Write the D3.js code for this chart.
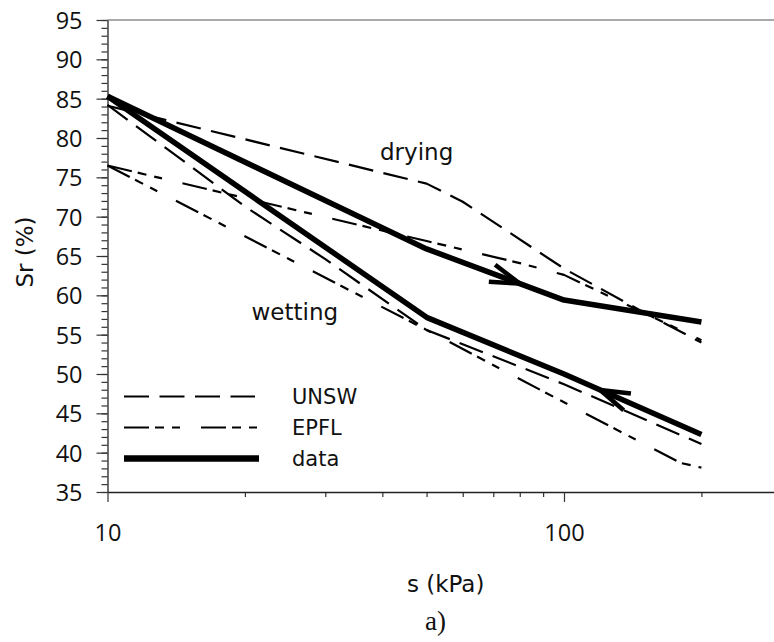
<!DOCTYPE html>
<html>
<head>
<meta charset="utf-8">
<script src="https://cdn.jsdelivr.net/npm/d3@7"></script>
<style>
  html, body { margin: 0; padding: 0; background: #fff; }
  svg { display: block; }
</style>
</head>
<body>
<div id="app"></div>
<script>
// measured data (s in kPa, Sr in %)
const dataDryS   = [10, 50, 100, 200]
const dataDrySr  = [85.3, 65.9, 59.4, 56.6]
const dataWetS   = [10, 50, 100, 200]
const dataWetSr  = [85.3, 57.2, 50.0, 42.3]

// UNSW model
const unswDryS   = [10, 50, 60, 100, 150, 200]
const unswDrySr  = [84.1, 74.2, 71.9, 63.4, 57.8, 54.0]
const unswWetS   = [10, 20, 30, 50, 100, 200]
const unswWetSr  = [84.2, 71.3, 64.6, 55.6, 48.7, 41.1]

// EPFL model
const epflDryS   = [10, 50, 80, 100, 200]
const epflDrySr  = [76.5, 66.9, 64.1, 62.6, 54.3]
const epflWetS   = [10, 50, 100, 180, 200]
const epflWetSr  = [76.5, 55.6, 46.4, 38.7, 38.1]

// arrows on the data paths (suction where the head sits)
const arrowDryS = 80
const arrowWetS = 120

const yTicks = d3.range(35, 96, 5)
const yMinor = d3.range(35, 96, 1)
const xTicks = [10, 100]
const xMinor = [20, 30, 40, 50, 60, 70, 80, 90, 200]

const legendNames = ['UNSW', 'EPFL', 'data']

const width = 774
const height = 642

const x_scale = d3.scaleLog()
    .domain([10, 300])
    .range([107.5, 781.8])

const y_scale = d3.scaleLinear()
    .domain([35, 95])
    .range([492, 20])

const zip = (a, b) => a.map((v, i) => [v, b[i]])

const svg = d3.create('svg')
    .attr('viewBox', [0, 0, width, height])
    .attr('width', width)
    .attr('height', height)
    .style('font-family', '"DejaVu Sans", Verdana, sans-serif')

// top frame line
svg.append('line')
    .attr('x1', x_scale.range()[0]).attr('x2', x_scale.range()[1])
    .attr('y1', y_scale(95)).attr('y2', y_scale(95))
    .attr('stroke', '#555').attr('stroke-width', 1.2)

// y axis
const yMinorAxis = svg.append('g')
    .attr('transform', `translate(${x_scale(10)},0)`)
    .call(d3.axisLeft(y_scale).tickValues(yMinor).tickSize(6).tickSizeOuter(0).tickFormat(''))
yMinorAxis.select('.domain').remove()

const yAxis = svg.append('g')
    .attr('transform', `translate(${x_scale(10)},0)`)
    .call(d3.axisLeft(y_scale).tickValues(yTicks).tickSize(11).tickSizeOuter(0).tickPadding(14))

// x axis
const xMinorAxis = svg.append('g')
    .attr('transform', `translate(0,${y_scale(35)})`)
    .call(d3.axisBottom(x_scale).tickValues(xMinor).tickSize(5).tickSizeOuter(0).tickFormat(''))
xMinorAxis.select('.domain').remove()

const xAxis = svg.append('g')
    .attr('transform', `translate(0,${y_scale(35)})`)
    .call(d3.axisBottom(x_scale).tickValues(xTicks).tickSize(10).tickSizeOuter(0).tickPadding(22).tickFormat(d3.format('d')))

svg.selectAll('.domain').attr('stroke', '#222').attr('stroke-width', 1.3)
svg.selectAll('.tick line').attr('stroke', '#333').attr('stroke-width', 1.2)
svg.selectAll('.tick text')
    .attr('fill', '#111')
    .style('font-family', '"Open Sans", sans-serif')
    .style('font-size', '23.5px')
yAxis.selectAll('.tick text').attr('dy', '0.36em')

// axis titles
svg.append('text')
    .attr('transform', `translate(33,${(y_scale(95) + y_scale(35)) / 2 - 4}) rotate(-90)`)
    .attr('text-anchor', 'middle')
    .style('font-size', '23px')
    .attr('fill', '#111')
    .text('Sr (%)')

svg.append('text')
    .attr('x', 445.7).attr('y', 592)
    .attr('text-anchor', 'middle')
    .style('font-size', '23px')
    .attr('fill', '#111')
    .text('s (kPa)')

svg.append('text')
    .attr('x', 435.5).attr('y', 630)
    .attr('text-anchor', 'middle')
    .style('font-family', '"Liberation Serif", "Times New Roman", serif')
    .style('font-size', '27px')
    .attr('fill', '#111')
    .text('a)')

// model + data curves
const line = d3.line()
    .x(d => x_scale(d[0]))
    .y(d => y_scale(d[1]))

const unswDash = '25,10.5'
const epflDash = '25,6,9,8,8,21'

const curves = [
    {pts: zip(unswDryS, unswDrySr), dash: unswDash, w: 2.2},
    {pts: zip(unswWetS, unswWetSr), dash: unswDash, w: 2.2},
    {pts: zip(epflDryS, epflDrySr), dash: epflDash, w: 2.2},
    {pts: zip(epflWetS, epflWetSr), dash: epflDash, w: 2.2},
    {pts: zip(dataDryS, dataDrySr), dash: null, w: 5.5},
    {pts: zip(dataWetS, dataWetSr), dash: null, w: 5.5},
]

svg.append('g')
    .selectAll('path')
    .data(curves)
    .join('path')
    .attr('d', d => line(d.pts))
    .attr('fill', 'none')
    .attr('stroke', '#000')
    .attr('stroke-width', d => d.w)
    .attr('stroke-dasharray', d => d.dash)
    .attr('stroke-linejoin', 'round')

// arrow heads: open V built from the local direction of the data path
function arrowHead(ss, srs, s, dir) {
    const i = d3.bisectRight(ss, s) - 1
    const x0 = x_scale(ss[i]), y0 = y_scale(srs[i])
    const x1 = x_scale(ss[i + 1]), y1 = y_scale(srs[i + 1])
    const t = (x_scale(s) - x0) / (x1 - x0)
    const tip = [x_scale(s), y0 + t * (y1 - y0)]
    // backward angle (pointing away from travel direction)
    let ang = Math.atan2(y1 - y0, x1 - x0)
    if (dir > 0) ang += Math.PI
    const len = 31, half = 17 * Math.PI / 180
    return [ang - half, ang + half].map(a => [tip, [tip[0] + len * Math.cos(a), tip[1] + len * Math.sin(a)]])
}

const barbs = [
    ...arrowHead(dataDryS, dataDrySr, arrowDryS, 1),
    ...arrowHead(dataWetS, dataWetSr, arrowWetS, -1),
]

svg.append('g')
    .selectAll('line')
    .data(barbs)
    .join('line')
    .attr('x1', d => d[0][0]).attr('y1', d => d[0][1])
    .attr('x2', d => d[1][0]).attr('y2', d => d[1][1])
    .attr('stroke', '#000')
    .attr('stroke-width', 4.5)
    .attr('stroke-linecap', 'butt')

// curve labels
svg.append('text')
    .attr('x', 380).attr('y', 160)
    .style('font-size', '23px')
    .attr('fill', '#111')
    .text('drying')

svg.append('text')
    .attr('x', 251.5).attr('y', 320)
    .style('font-size', '23px')
    .attr('fill', '#111')
    .text('wetting')

// legend
const legendStyles = [
    {dash: unswDash, w: 2.2, x2: 255},
    {dash: epflDash, w: 2.2, x2: 259},
    {dash: null, w: 6.5, x2: 259},
]
const legend = svg.append('g')
    .selectAll('g')
    .data(legendNames)
    .join('g')
    .attr('transform', (d, i) => `translate(0,${396.5 + i * 31})`)

legend.append('line')
    .attr('x1', 124).attr('x2', (d, i) => legendStyles[i].x2)
    .attr('stroke', '#000')
    .attr('stroke-width', (d, i) => legendStyles[i].w)
    .attr('stroke-dasharray', (d, i) => legendStyles[i].dash)

legend.append('text')
    .attr('x', 292)
    .attr('dy', '0.36em')
    .style('font-size', '21px')
    .attr('fill', '#111')
    .text(d => d)

d3.select('#app').append(() => svg.node())
</script>
</body>
</html>
